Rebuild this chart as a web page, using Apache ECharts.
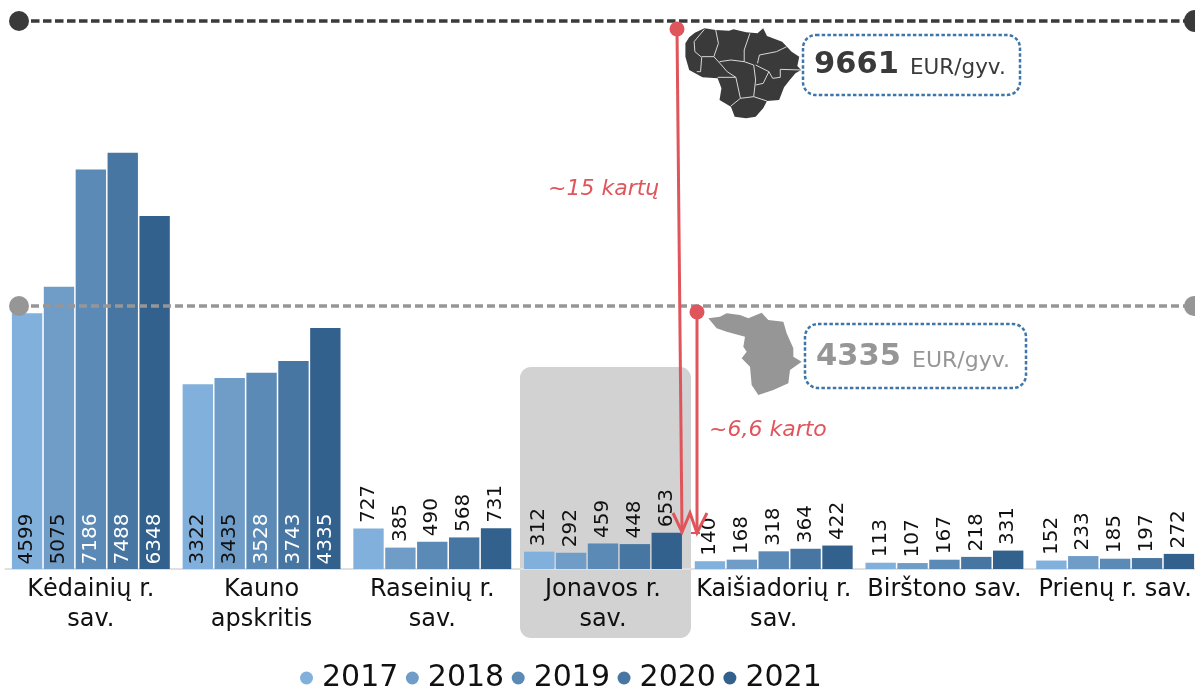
<!DOCTYPE html>
<html><head><meta charset="utf-8">
<style>html,body{margin:0;padding:0;background:#fff}#c{width:1195px;height:690px}</style>
<script src="https://cdn.jsdelivr.net/npm/echarts@6/dist/echarts.min.js"></script>
</head><body><div id="c"></div>
<script>
const categories = ["Kėdainių r.\nsav.","Kauno\napskritis","Raseinių r.\nsav.","Jonavos r.\nsav.","Kaišiadorių r.\nsav.","Birštono sav.","Prienų r. sav."];
const years = ["2017","2018","2019","2020","2021"];
const v2017 = [4599,3322,727,312,140,113,152];
const v2018 = [5075,3435,385,292,168,107,233];
const v2019 = [7186,3528,490,459,318,167,185];
const v2020 = [7488,3743,568,448,364,218,197];
const v2021 = [6348,4335,731,653,422,331,272];
const colors = ["#82b0dc","#6f9dc8","#5a8ab5","#4876a3","#33618d"];
const FONT = '"DejaVu Sans", Verdana, sans-serif';
const RED = "#e0555b", DARK = "#3a3a3a", GREY = "#969696", BLUE = "#3d76ab";
const ltOutline = [[225,130],[235,112],[250,98],[275,85],[305,90],[340,92],[352,88],[385,97],[415,100],[430,85],[440,108],[480,125],[505,155],[525,170],[520,198],[530,210],[515,220],[500,240],[485,262],[472,300],[440,303],[430,325],[410,350],[385,355],[355,350],[345,320],[315,300],[320,265],[310,235],[270,232],[235,210],[225,170]];
const ltBorders = [[[275,88],[248,125],[250,155],[268,172],[265,215],[255,215]],[[305,90],[312,130],[300,170],[320,195],[335,215],[358,232],[310,232]],[[268,170],[300,170]],[[395,100],[380,150],[380,185],[345,180],[315,185]],[[380,185],[405,195],[410,240],[405,290],[370,295],[345,318]],[[405,290],[440,303]],[[358,232],[370,295]],[[415,190],[420,165],[465,155],[492,140]],[[410,195],[445,215],[455,235],[475,232],[475,208],[530,210]],[[410,255],[430,250],[445,215]]];
const kaOutline = [[625,85],[660,80],[680,70],[720,75],[745,85],[785,68],[805,90],[850,95],[860,130],[880,175],[880,200],[905,215],[870,240],[865,280],[820,300],[775,315],[755,285],[750,230],[725,205],[740,185],[730,170],[735,140],[680,125],[650,115]];
const mapLt = p => [600 + p[0] / 2.635, p[1] / 3];
const mapKa = p => [500 + p[0] / 3, 290 + p[1] / 3];
const all = [v2017,v2018,v2019,v2020,v2021];
const series = years.map((y,i)=>({
  name:y,type:"bar",barGap:"5%",barCategoryGap:"7.5%",
  itemStyle:{color:colors[i]},
  data:all[i].map(v=>({value:v,label:{
    show:true,rotate:90,align:"left",verticalAlign:"middle",
    position:v>1000?"insideBottom":"top",distance:v>1000?6:7,offset:[-1.5,0],
    color:(v>1000&&i>=2)?"#fff":"#111",fontSize:20,fontFamily:FONT,formatter:"{c}"
  }}))
}));
const line=(x1,y1,x2,y2,color,w,dash,z)=>({type:"line",z:z||10,shape:{x1,y1,x2,y2},style:{stroke:color,lineWidth:w,lineDash:dash||null,fill:null}});
const dot=(cx,cy,r,color)=>({type:"circle",z:11,shape:{cx,cy,r},style:{fill:color}});
const txt=(x,y,text,size,color,weight,italic)=>({type:"text",z:12,x,y,style:{text,fontSize:size,fill:color,fontWeight:weight||"normal",fontStyle:italic?"italic":"normal",fontFamily:FONT,verticalAlign:"middle",align:"left"}});
const box=(x,y,width,height)=>({type:"rect",z:9,shape:{x,y,width,height,r:13},style:{fill:"#fff",stroke:BLUE,lineWidth:2.5,lineDash:[3.5,2.2]}});
const graphics=[
  {type:"rect",z:0,silent:true,shape:{x:520,y:367,width:171,height:271,r:11},style:{fill:"#d2d2d2"}},
  line(19,21,1195,21,DARK,3.5,[8.5,3.5]),dot(19,21,10,DARK),dot(1195,21,11,DARK),
  line(19,306,1195,306,GREY,3.5,[8,4]),dot(19,306,10,GREY),dot(1194,306,10,GREY),
  {type:"polygon",z:8,shape:{points:ltOutline.map(mapLt)},style:{fill:DARK}},
  ...ltBorders.map(b=>({type:"polyline",z:8,shape:{points:b.map(mapLt)},style:{stroke:"#d8d8d8",lineWidth:1,fill:null}})),
  {type:"polygon",z:8,shape:{points:kaOutline.map(mapKa)},style:{fill:GREY}},
  box(803,35,217,60),box(805,324,221,64),
  txt(814,65,"9661",30.5,DARK,"bold"),txt(910,68,"EUR/gyv.",21.5,DARK),
  txt(816,357,"4335",30.5,GREY,"bold"),txt(912,361,"EUR/gyv.",22,GREY),
  txt(548,189,"~15 kartų",22,RED,"normal",true),txt(709,430,"~6,6 karto",22,RED,"normal",true),
  line(677,29,682,531,RED,3),dot(677,29,7.5,RED),
  line(697,312,697,532,RED,3),dot(697,312,7.5,RED),
  {type:"polyline",z:10,shape:{points:[[673,513],[682,532],[690,513],[697,533],[707,513]]},style:{stroke:RED,lineWidth:3,fill:null}},
  line(691,533,700,533,RED,2)
];
const chart=echarts.init(document.getElementById("c"),null,{renderer:"canvas"});
chart.setOption({
  animation:false,backgroundColor:"#fff",
  grid:{left:5.5,top:13,width:1195,height:556,containLabel:false,outerBoundsMode:"none"},
  legend:{left:300,top:663,padding:0,icon:"circle",itemWidth:13,itemHeight:13,itemGap:7.5,
    textStyle:{fontSize:30,fontFamily:FONT,color:"#111",padding:[0,0,0,4]},data:years},
  xAxis:{type:"category",data:categories,axisTick:{show:false},
    axisLine:{lineStyle:{color:"#e0e0e0",width:2}},
    axisLabel:{interval:0,fontSize:24,fontFamily:FONT,color:"#111",lineHeight:30,margin:6}},
  yAxis:{type:"value",min:0,max:10000,show:false,splitLine:{show:false}},
  series,graphic:{elements:graphics}
});
</script></body></html>
